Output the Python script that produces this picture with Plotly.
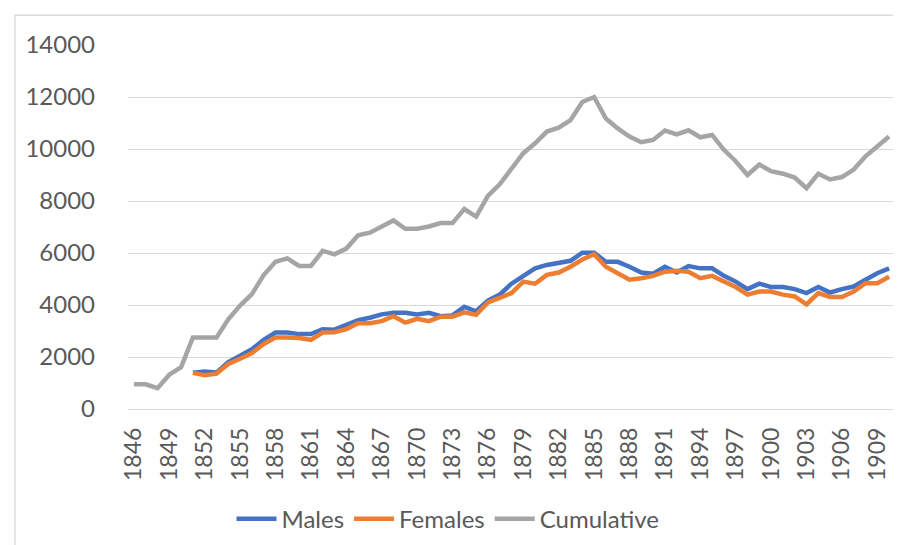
import plotly.graph_objects as go

years = [str(y) for y in range(1846, 1911)]

cumulative = [950, 950, 800, 1320, 1610,
              2750, 2750, 2750, 3450, 3980, 4420, 5150, 5660, 5790, 5500,
              5500, 6080, 5950, 6170, 6680, 6780, 7020, 7250, 6930, 6930,
              7020, 7150, 7150, 7690, 7400, 8200, 8640, 9270, 9840, 10220,
              10670, 10820, 11110, 11810, 12000, 11170, 10790, 10480, 10260, 10350,
              10710, 10560, 10720, 10450, 10540, 9970, 9530, 9000, 9400, 9150,
              9050, 8900, 8490, 9050, 8830, 8920, 9210, 9720, 10100, 10480]

males = [None, None, None, None, None,
         1390, 1440, 1400, 1800, 2050, 2300, 2660, 2940, 2940, 2880,
         2880, 3070, 3050, 3220, 3420, 3510, 3640, 3700, 3700, 3640,
         3700, 3570, 3600, 3930, 3760, 4170, 4400, 4820, 5090, 5410,
         5540, 5630, 5700, 6010, 6010, 5660, 5660, 5470, 5250, 5200,
         5470, 5250, 5500, 5410, 5410, 5120, 4900, 4610, 4820, 4690,
         4690, 4610, 4460, 4690, 4480, 4610, 4710, 4970, 5220, 5410]

females = [None, None, None, None, None,
           1390, 1300, 1360, 1730, 1930, 2150, 2500, 2750, 2750, 2730,
           2660, 2940, 2950, 3070, 3300, 3300, 3380, 3570, 3320, 3470,
           3380, 3550, 3550, 3720, 3620, 4100, 4270, 4460, 4900, 4820,
           5160, 5250, 5470, 5750, 5950, 5470, 5220, 4970, 5030, 5120,
           5280, 5320, 5280, 5030, 5120, 4900, 4690, 4400, 4520, 4520,
           4400, 4330, 4020, 4460, 4310, 4310, 4520, 4840, 4840, 5090]

tick_years = years[::3]
y_ticks = [0, 2000, 4000, 6000, 8000, 10000, 12000, 14000]

font_family = "Lato, 'Open Sans', sans-serif"
text_color = "#595959"

fig = go.Figure()
fig.add_trace(go.Scatter(x=years, y=males, name="Males", mode="lines",
                         line=dict(color="#4472C4", width=4.5)))
fig.add_trace(go.Scatter(x=years, y=females, name="Females", mode="lines",
                         line=dict(color="#ED7D31", width=4.5)))
fig.add_trace(go.Scatter(x=years, y=cumulative, name="Cumulative", mode="lines",
                         line=dict(color="#A5A5A5", width=4.5)))

L, R, T, B = 120, 14, 37, 141
W, H = 901, 545
pw, ph = W - L - R, H - T - B

def px_x(x):
    return (x - L) / pw

def px_y(y):
    return (H - B - y) / ph

fig.update_layout(
    width=W, height=H,
    margin=dict(l=L, r=R, t=T, b=B, pad=0),
    paper_bgcolor="white", plot_bgcolor="white",
    font=dict(family=font_family, color=text_color, size=24),
    showlegend=True,
    legend=dict(orientation="h", x=px_x(440), xanchor="center",
                y=px_y(515), yanchor="middle",
                font=dict(size=24, color=text_color),
                itemwidth=40, tracegroupgap=0,
                bgcolor="rgba(0,0,0,0)"),
    xaxis=dict(type="category", categoryorder="array", categoryarray=years,
               range=[-0.5, len(years) - 0.5],
               tickmode="array", tickvals=tick_years, ticktext=tick_years,
               tickangle=-90, tickfont=dict(size=23, color=text_color),
               showgrid=False, showline=False, zeroline=False,
               ticks="", ticklabelstandoff=13),
    yaxis=dict(range=[0, 14000], tickmode="array", tickvals=y_ticks,
               ticktext=[str(v) for v in y_ticks],
               tickfont=dict(size=24, color=text_color),
               showgrid=True, gridcolor="#D9D9D9", gridwidth=1.3,
               zeroline=True, zerolinecolor="#D9D9D9", zerolinewidth=1.3,
               showline=False, ticks="", ticklabelstandoff=32),
    shapes=[dict(type="rect", xref="paper", yref="paper",
                 x0=px_x(7), x1=px_x(910), y0=px_y(560), y1=px_y(7),
                 line=dict(color="#D9D9D9", width=1.3),
                 fillcolor="rgba(0,0,0,0)", layer="below")],
)

fig.write_html("out.html")
